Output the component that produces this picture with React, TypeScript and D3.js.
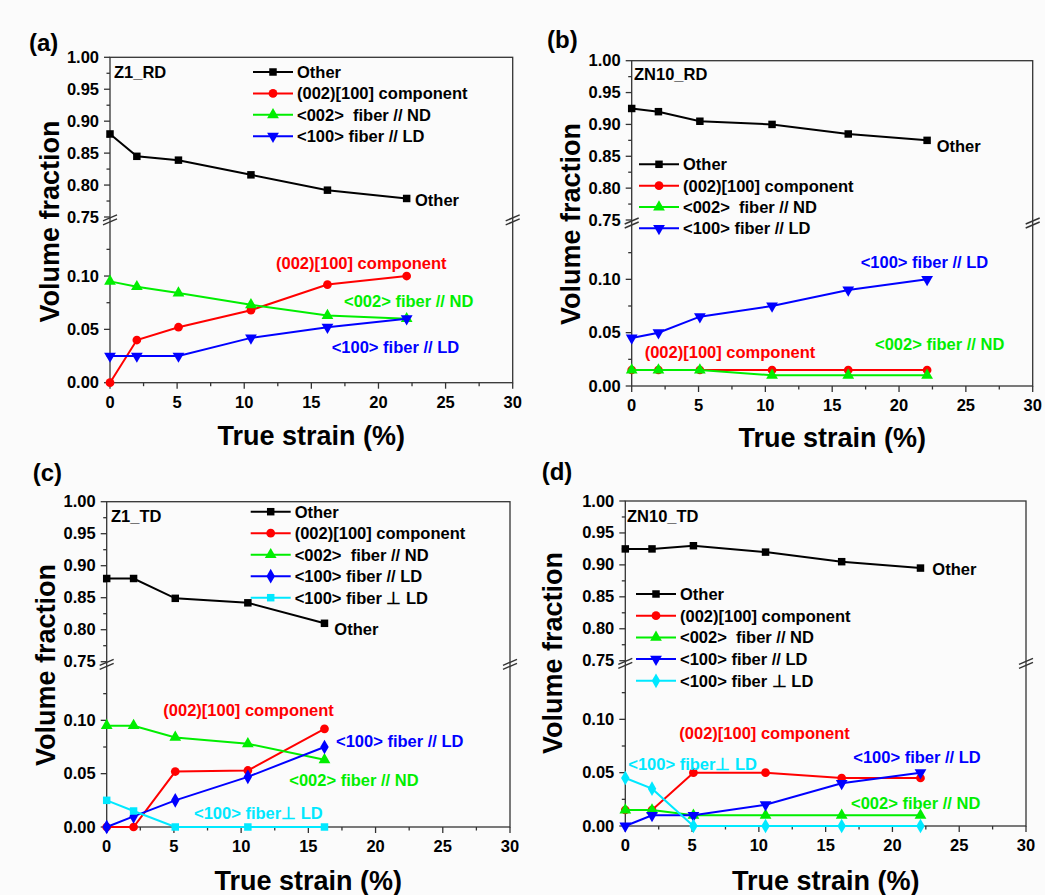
import React from "react";
import * as d3 from "d3";

// ---------- data ----------
const strainRD = [0, 2, 5.1, 10.5, 16.2, 22.1];
const strainZ1TD = [0, 2, 5.1, 10.5, 16.2];
const strainZN10TD = [0, 2, 5.1, 10.5, 16.2, 22.1];

const aOther = [0.88, 0.845, 0.839, 0.816, 0.792, 0.779];
const aComp = [0, 0.04, 0.052, 0.068, 0.092, 0.1];
const aND = [0.095, 0.09, 0.084, 0.073, 0.063, 0.06];
const aLD = [0.025, 0.025, 0.025, 0.042, 0.052, 0.06];

const bOther = [0.925, 0.92, 0.905, 0.9, 0.885, 0.875];
const bComp = [0.015, 0.015, 0.015, 0.015, 0.015, 0.015];
const bND = [0.015, 0.015, 0.015, 0.01, 0.01, 0.01];
const bLD = [0.045, 0.05, 0.065, 0.075, 0.09, 0.1];

const cOther = [0.88, 0.88, 0.849, 0.842, 0.81];
const cComp = [0, 0, 0.052, 0.053, 0.092];
const cND = [0.095, 0.095, 0.084, 0.078, 0.063];
const cLD = [0, 0.01, 0.025, 0.047, 0.075];
const cPerpLD = [0.025, 0.015, 0, 0, 0];

const dOther = [0.925, 0.925, 0.93, 0.92, 0.905, 0.895];
const dComp = [0.015, 0.015, 0.05, 0.05, 0.045, 0.045];
const dND = [0.015, 0.015, 0.01, 0.01, 0.01, 0.01];
const dLD = [0, 0.01, 0.01, 0.02, 0.04, 0.05];
const dPerpLD = [0.045, 0.035, 0, 0, 0, 0];

const xTicks = [0, 5, 10, 15, 20, 25, 30];
const xMinor = [2.5, 7.5, 12.5, 17.5, 22.5, 27.5];
const upperTicks = [0.75, 0.8, 0.85, 0.9, 0.95, 1.0];
const upperMinor = [0.775, 0.825, 0.875, 0.925, 0.975];
const lowerTicks = [0, 0.05, 0.1];
const lowerMinor = [0.025, 0.075, 0.125];

const nameOther = "Other";
const nameComp = "(002)[100] component";
const nameND = "<002>  fiber // ND";
const nameLD = "<100> fiber // LD";
const namePerp = "<100> fiber \u22a5 LD";

// ---------- styling ----------
const C_BLACK = "#000000";
const C_RED = "#ff0000";
const C_GREEN = "#00ee00";
const C_BLUE = "#0000ff";
const C_CYAN = "#00e8ff";
const FONT = "'Liberation Sans', Arial, sans-serif";

type Series = { name: string; xs: number[]; ys: number[]; color: string; symbol: string };
type Ann = { text: string; x: number; y: number; color: string };
type Panel = {
  label: string; lx: number; ly: number;
  sample: string; sx: number; sy: number;
  left: number; right: number; top: number; upperBottom: number; lowerTop: number; bottom: number;
  series: Series[];
  legend: { x: number; y: number; dy: number };
  anns: Ann[];
  yTitleX: number; yTitleY: number; xTitleY: number;
};

const panels: Panel[] = [
  {
    label: "(a)", lx: 29, ly: 51, sample: "Z1_RD", sx: 114, sy: 78,
    left: 110, right: 512.7, top: 57.3, upperBottom: 217, lowerTop: 222.7, bottom: 382.7,
    series: [
      { name: nameOther, xs: strainRD, ys: aOther, color: C_BLACK, symbol: "square" },
      { name: nameComp, xs: strainRD, ys: aComp, color: C_RED, symbol: "circle" },
      { name: nameND, xs: strainRD, ys: aND, color: C_GREEN, symbol: "triUp" },
      { name: nameLD, xs: strainRD, ys: aLD, color: C_BLUE, symbol: "triDown" },
    ],
    legend: { x: 253, y: 72, dy: 21.4 },
    anns: [
      { text: "Other", x: 415, y: 200, color: C_BLACK },
      { text: "(002)[100] component", x: 276, y: 263, color: C_RED },
      { text: "<002> fiber // ND", x: 344, y: 300.7, color: C_GREEN },
      { text: "<100> fiber // LD", x: 331.7, y: 346.7, color: C_BLUE },
    ],
    yTitleX: 48.5, yTitleY: 221.5, xTitleY: 435,
  },
  {
    label: "(b)", lx: 547, ly: 48, sample: "ZN10_RD", sx: 634, sy: 80,
    left: 631.7, right: 1032.7, top: 60.7, upperBottom: 220, lowerTop: 226, bottom: 386,
    series: [
      { name: nameOther, xs: strainRD, ys: bOther, color: C_BLACK, symbol: "square" },
      { name: nameComp, xs: strainRD, ys: bComp, color: C_RED, symbol: "circle" },
      { name: nameND, xs: strainRD, ys: bND, color: C_GREEN, symbol: "triUp" },
      { name: nameLD, xs: strainRD, ys: bLD, color: C_BLUE, symbol: "triDown" },
    ],
    legend: { x: 639, y: 164.3, dy: 21.35 },
    anns: [
      { text: "Other", x: 936.7, y: 145.7, color: C_BLACK },
      { text: "<100> fiber // LD", x: 860.7, y: 261.7, color: C_BLUE },
      { text: "<002> fiber // ND", x: 875, y: 344, color: C_GREEN },
      { text: "(002)[100] component", x: 644.7, y: 352.3, color: C_RED },
    ],
    yTitleX: 570, yTitleY: 224, xTitleY: 436.7,
  },
  {
    label: "(c)", lx: 32.7, ly: 481, sample: "Z1_TD", sx: 111, sy: 521.5,
    left: 106.7, right: 510, top: 501.7, upperBottom: 661.7, lowerTop: 667, bottom: 827,
    series: [
      { name: nameOther, xs: strainZ1TD, ys: cOther, color: C_BLACK, symbol: "square" },
      { name: nameComp, xs: strainZ1TD, ys: cComp, color: C_RED, symbol: "circle" },
      { name: nameND, xs: strainZ1TD, ys: cND, color: C_GREEN, symbol: "triUp" },
      { name: nameLD, xs: strainZ1TD, ys: cLD, color: C_BLUE, symbol: "diamond" },
      { name: namePerp, xs: strainZ1TD, ys: cPerpLD, color: C_CYAN, symbol: "square" },
    ],
    legend: { x: 250.7, y: 511.7, dy: 21.5 },
    anns: [
      { text: "Other", x: 334.3, y: 629, color: C_BLACK },
      { text: "(002)[100] component", x: 163.3, y: 710, color: C_RED },
      { text: "<100> fiber // LD", x: 336, y: 740.7, color: C_BLUE },
      { text: "<002> fiber // ND", x: 289.3, y: 780, color: C_GREEN },
      { text: "<100> fiber\u22a5 LD", x: 194, y: 812.7, color: C_CYAN },
    ],
    yTitleX: 44.7, yTitleY: 665, xTitleY: 880,
  },
  {
    label: "(d)", lx: 541.7, ly: 479.7, sample: "ZN10_TD", sx: 627, sy: 521.5,
    left: 625.3, right: 1026, top: 501, upperBottom: 660.7, lowerTop: 666, bottom: 826,
    series: [
      { name: nameOther, xs: strainZN10TD, ys: dOther, color: C_BLACK, symbol: "square" },
      { name: nameComp, xs: strainZN10TD, ys: dComp, color: C_RED, symbol: "circle" },
      { name: nameND, xs: strainZN10TD, ys: dND, color: C_GREEN, symbol: "triUp" },
      { name: nameLD, xs: strainZN10TD, ys: dLD, color: C_BLUE, symbol: "triDown" },
      { name: namePerp, xs: strainZN10TD, ys: dPerpLD, color: C_CYAN, symbol: "diamond" },
    ],
    legend: { x: 636, y: 594, dy: 21.7 },
    anns: [
      { text: "Other", x: 932.3, y: 569, color: C_BLACK },
      { text: "(002)[100] component", x: 679.3, y: 733.3, color: C_RED },
      { text: "<100> fiber // LD", x: 853.3, y: 757.3, color: C_BLUE },
      { text: "<100> fiber\u22a5 LD", x: 628.3, y: 764.3, color: C_CYAN },
      { text: "<002> fiber // ND", x: 851, y: 802.7, color: C_GREEN },
    ],
    yTitleX: 552, yTitleY: 653, xTitleY: 880,
  },
];

function symbolPath(kind: string): { d: string; rot: number } {
  const map: Record<string, [d3.SymbolType, number, number]> = {
    square: [d3.symbolSquare, 56, 0],
    circle: [d3.symbolCircle, 60, 0],
    triUp: [d3.symbolTriangle, 60, 0],
    triDown: [d3.symbolTriangle, 60, 180],
    diamond: [d3.symbolDiamond, 62, 0],
  };
  const [t, s, r] = map[kind];
  return { d: d3.symbol().type(t).size(s)() as string, rot: r };
}

function Marker({ kind, x, y, color }: { kind: string; x: number; y: number; color: string }) {
  const { d, rot } = symbolPath(kind);
  return <path d={d} transform={`translate(${x},${y}) rotate(${rot})`} fill={color} />;
}

function PanelView({ p }: { p: Panel }) {
  const x = d3.scaleLinear().domain([0, 30]).range([p.left, p.right]);
  const yU = d3.scaleLinear().domain([0.75, 1.0]).range([p.upperBottom, p.top]);
  const yL = d3.scaleLinear().domain([0, 0.15]).range([p.bottom, p.lowerTop]);
  const y = (v: number) => (v >= 0.5 ? yU(v) : yL(v));
  const line = d3.line<[number, number]>().x((d) => x(d[0])).y((d) => y(d[1]));
  const axisColor = "#333";
  const breakY = (p.upperBottom + p.lowerTop) / 2;
  const slash = (cx: number) => (
    <g>
      <line x1={cx - 7} y1={breakY + 1} x2={cx + 7} y2={breakY - 5} stroke={axisColor} strokeWidth={1.4} />
      <line x1={cx - 7} y1={breakY + 5} x2={cx + 7} y2={breakY - 1} stroke={axisColor} strokeWidth={1.4} />
    </g>
  );
  return (
    <g fontFamily={FONT}>
      {/* frame */}
      <rect x={p.left} y={p.top} width={p.right - p.left} height={p.bottom - p.top} fill="none" stroke={axisColor} strokeWidth={1.3} />
      {slash(p.left)}
      {slash(p.right)}
      {/* x ticks */}
      {xTicks.map((t) => (
        <g key={"xt" + t}>
          <line x1={x(t)} x2={x(t)} y1={p.bottom} y2={p.bottom + 6} stroke={axisColor} strokeWidth={1.3} />
          <text x={x(t)} y={p.bottom + 25} textAnchor="middle" fontSize={16.5} fontWeight="bold">{t}</text>
        </g>
      ))}
      {xMinor.map((t) => (
        <line key={"xm" + t} x1={x(t)} x2={x(t)} y1={p.bottom} y2={p.bottom + 3.5} stroke={axisColor} strokeWidth={1.3} />
      ))}
      {/* y ticks */}
      {upperTicks.map((t) => (
        <g key={"yu" + t}>
          <line x1={p.left - 6} x2={p.left} y1={yU(t)} y2={yU(t)} stroke={axisColor} strokeWidth={1.3} />
          <text x={p.left - 11} y={yU(t) + 5.5} textAnchor="end" fontSize={16.5} fontWeight="bold">{t.toFixed(2)}</text>
        </g>
      ))}
      {upperMinor.map((t) => (
        <line key={"yum" + t} x1={p.left - 3.5} x2={p.left} y1={yU(t)} y2={yU(t)} stroke={axisColor} strokeWidth={1.3} />
      ))}
      {lowerTicks.map((t) => (
        <g key={"yl" + t}>
          <line x1={p.left - 6} x2={p.left} y1={yL(t)} y2={yL(t)} stroke={axisColor} strokeWidth={1.3} />
          <text x={p.left - 11} y={yL(t) + 5.5} textAnchor="end" fontSize={16.5} fontWeight="bold">{t.toFixed(2)}</text>
        </g>
      ))}
      {lowerMinor.map((t) => (
        <line key={"ylm" + t} x1={p.left - 3.5} x2={p.left} y1={yL(t)} y2={yL(t)} stroke={axisColor} strokeWidth={1.3} />
      ))}
      {/* series */}
      {p.series.map((s) => {
        const pts = s.xs.map((xv, i) => [xv, s.ys[i]] as [number, number]);
        return (
          <g key={s.name}>
            <path d={line(pts) as string} fill="none" stroke={s.color} strokeWidth={2} />
            {pts.map((pt, i) => (
              <Marker key={i} kind={s.symbol} x={x(pt[0])} y={y(pt[1])} color={s.color} />
            ))}
          </g>
        );
      })}
      {/* legend */}
      {p.series.map((s, i) => {
        const ly = p.legend.y + i * p.legend.dy;
        return (
          <g key={"lg" + s.name}>
            <line x1={p.legend.x} x2={p.legend.x + 40} y1={ly} y2={ly} stroke={s.color} strokeWidth={2} />
            <Marker kind={s.symbol} x={p.legend.x + 20} y={ly} color={s.color} />
            <text x={p.legend.x + 44} y={ly + 6} fontSize={16.5} fontWeight="bold" style={{ whiteSpace: "pre" }}>{s.name}</text>
          </g>
        );
      })}
      {/* sample label */}
      <text x={p.sx} y={p.sy} fontSize={16.5} fontWeight="bold">{p.sample}</text>
      {/* annotations */}
      {p.anns.map((a) => (
        <text key={a.text + a.x} x={a.x} y={a.y + 6} fontSize={16.5} fontWeight="bold" fill={a.color}>{a.text}</text>
      ))}
      {/* titles */}
      <text x={(p.left + p.right) / 2} y={p.xTitleY + 10} textAnchor="middle" fontSize={27} fontWeight="bold">True strain (%)</text>
      <text transform={`translate(${p.yTitleX + 10},${p.yTitleY}) rotate(-90)`} textAnchor="middle" fontSize={27} fontWeight="bold">Volume fraction</text>
      <text x={p.lx} y={p.ly} fontSize={24} fontWeight="bold">{p.label}</text>
    </g>
  );
}

export default function App() {
  return (
    <svg width={1045} height={895} style={{ position: "absolute", left: 0, top: 0, background: "#fbfbfb" }}>
      {panels.map((p) => (
        <PanelView key={p.label} p={p} />
      ))}
    </svg>
  );
}
